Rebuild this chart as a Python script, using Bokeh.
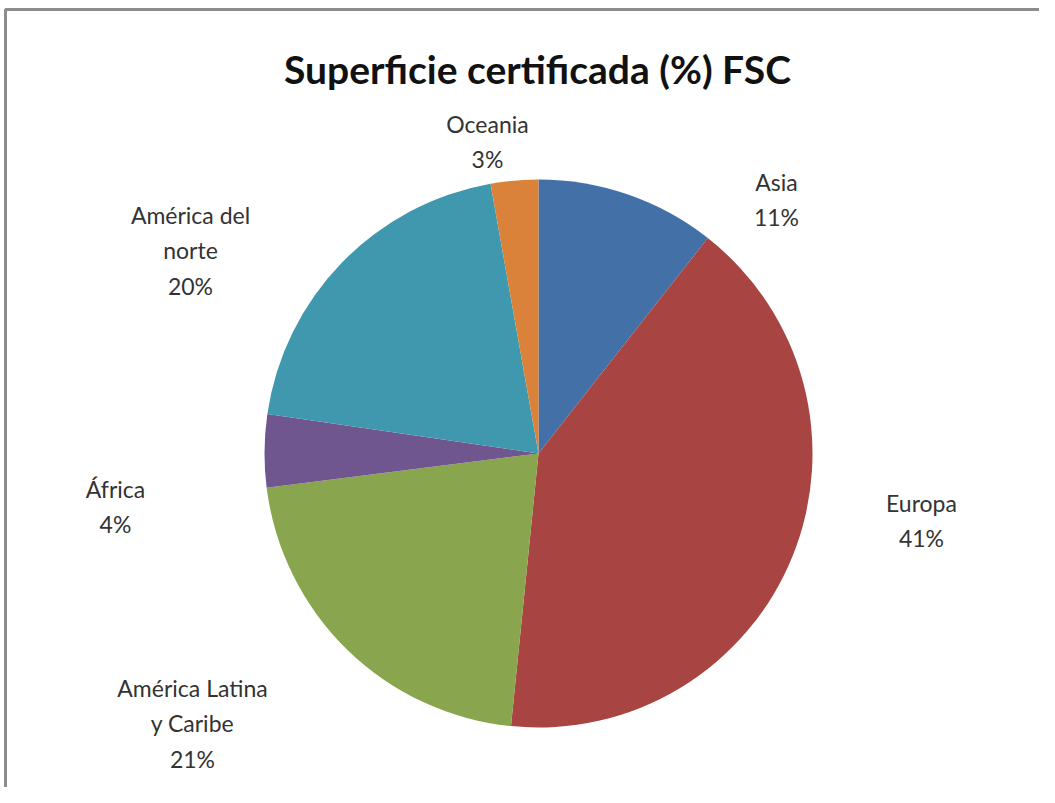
import numpy as np
from bokeh.plotting import figure
from bokeh.models import ColumnDataSource, Range1d
from bokeh.embed import file_html
from bokeh.resources import INLINE
from bokeh.core.properties import value

# ---- data ----
regions = ["Asia", "Europa", "América Latina\ny Caribe", "África", "América del\nnorte", "Oceania"]
shares = [10.6, 41.0, 21.4, 4.3, 19.9, 2.8]
colors = ["#4270A7", "#A84543", "#89A54E", "#70568F", "#4098AF", "#DA8239"]
title_text = "Superficie certificada (%) FSC"

# ---- label placement (picture pixel coords, styling only) ----
label_x = [776, 921, 192, 115, 190, 487]
label_y = [199, 520, 723, 506, 250, 141]

W, H = 1039, 787
CX, CY, R = 538, 453, 274

fr = np.array(shares) / sum(shares)
cum = np.concatenate([[0], np.cumsum(fr)])
start = np.pi / 2 - cum[:-1] * 2 * np.pi
end = np.pi / 2 - cum[1:] * 2 * np.pi

texts = [f"{r}\n{round(s)}%" for r, s in zip(regions, shares)]

src = ColumnDataSource(dict(start=start, end=end, color=colors,
                            lx=label_x, ly=[-v for v in label_y], txt=texts))

p = figure(width=W, height=H, output_backend="svg", toolbar_location=None,
           x_range=Range1d(0, W), y_range=Range1d(-H, 0),
           min_border=0, tools="")
p.axis.visible = False
p.grid.visible = False
p.outline_line_color = None
p.background_fill_color = "white"
p.border_fill_color = "white"

# chart-area border (only top and left edges fall inside the picture)
p.quad(left=5, right=W + 50, top=-9, bottom=-(H + 50), fill_color=None,
       line_color="#8c8c8c", line_width=3)

p.wedge(x=CX, y=-CY, radius=R, start_angle="start", end_angle="end",
        direction="clock", fill_color="color", line_color=None, source=src)

p.text(x="lx", y="ly", text="txt", source=src, text_align="center",
       text_baseline="middle", text_font=value("Lato"), text_font_size="23px",
       text_color="#333333", text_line_height=1.28)

p.text(x=[537], y=[-68], text=[title_text], text_align="center",
       text_baseline="middle", text_font=value("Lato"), text_font_size="39px",
       text_font_style="bold", text_color="#111111")

open("out.html", "w").write(file_html(p, INLINE))
